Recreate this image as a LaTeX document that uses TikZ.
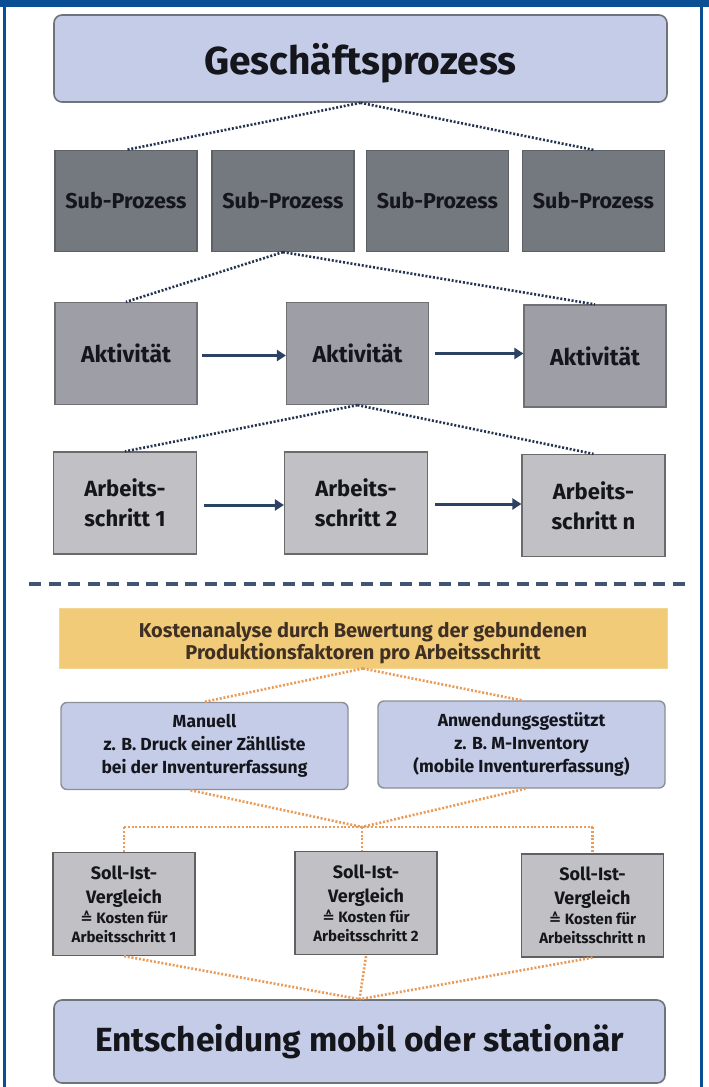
\documentclass[tikz,border=0pt]{standalone}
\usepackage{fontspec}
\setmainfont{Fira Sans}
\newfontfamily\symf{DejaVu Sans}
\usetikzlibrary{arrows.meta,calc}
\definecolor{frameblue}{HTML}{0A4F94}
\definecolor{lblue}{HTML}{C5CCE8}
\definecolor{bgray}{HTML}{6E747C}
\definecolor{subgray}{HTML}{747980}
\definecolor{aktgray}{HTML}{9E9EA6}
\definecolor{absgray}{HTML}{C0C0C5}
\definecolor{gold}{HTML}{F2CB78}
\definecolor{navy}{HTML}{22344F}
\definecolor{arrowc}{HTML}{2C4262}
\definecolor{orangedot}{HTML}{E99B5A}
\definecolor{txt}{HTML}{15161C}
\begin{document}
\begin{tikzpicture}[x=1pt,y=-1pt,
  every node/.style={inner sep=0pt, align=center, text=txt},
  roundbox/.style={rounded corners=8pt, fill=lblue, draw=bgray, line width=1.6pt},
  subbox/.style={fill=subgray, draw=subgray!80!black, line width=1.2pt, minimum width=142pt, minimum height=101pt,
     font=\bfseries\fontsize{21.5}{26}\selectfont},
  aktbox/.style={fill=aktgray, draw=aktgray!70!black, line width=1.2pt, minimum width=142pt, minimum height=102pt,
     font=\bfseries\fontsize{23}{26}\selectfont},
  absbox/.style={fill=absgray, draw=absgray!55!black, line width=1.2pt, minimum width=143pt, minimum height=102pt,
     font=\bfseries\fontsize{22}{30}\selectfont},
  sollbox/.style={fill=absgray, draw=absgray!50!black, line width=1.2pt, minimum width=142pt, minimum height=103pt,
     font=\bfseries\fontsize{18}{24}\selectfont},
  mbox/.style={rounded corners=6pt, fill=lblue, draw=bgray!80, line width=1.4pt, minimum width=287pt, minimum height=87pt,
     font=\bfseries\fontsize{17.5}{23}\selectfont},
  navydots/.style={draw=navy, line width=2.6pt, dash pattern=on 2pt off 1.8pt},
  orangedots/.style={draw=orangedot, line width=2.6pt, dash pattern=on 2pt off 1.8pt},
  flow/.style={draw=arrowc, line width=3pt, -{Triangle[length=9pt,width=11pt]}}
]
\newcommand{\smallln}[1]{{\fontsize{15}{19}\selectfont #1}}
\useasboundingbox (0,0) rectangle (709,1087);
\fill[white] (0,0) rectangle (709,1087);
% frame
\fill[frameblue] (0,0) rectangle (709,7);
\fill[frameblue] (3,0) rectangle (6,1087);
\fill[frameblue] (700,0) rectangle (703,1087);

% top
\node[roundbox, minimum width=613pt, minimum height=87pt, text depth=0pt, font=\bfseries\fontsize{39}{42}\selectfont] (gp) at (360.5,58.5)
  {Geschäftsprozess};

\node[subbox] (sp1) at (126,201) {Sub-Prozess};
\node[subbox] (sp2) at (283,201) {Sub-Prozess};
\node[subbox] (sp3) at (437.5,201) {Sub-Prozess};
\node[subbox] (sp4) at (593.5,201) {Sub-Prozess};

\node[aktbox] (ak1) at (126,353.5) {Aktivität};
\node[aktbox] (ak2) at (357.5,353.5) {Aktivität};
\node[aktbox] (ak3) at (595,356) {Aktivität};

\node[absbox] (ab1) at (125,503) {Arbeits-\\schritt 1};
\node[absbox] (ab2) at (356,503) {Arbeits-\\schritt 2};
\node[absbox] (ab3) at (593.5,505.5) {Arbeits-\\schritt n};

\draw[navydots] (gp.south) -- (sp1.north);
\draw[navydots] (gp.south) -- (sp4.north);
\draw[navydots] (sp2.south) -- (ak1.north);
\draw[navydots] (sp2.south) -- (ak3.north);
\draw[navydots] (ak2.south) -- (ab1.north);
\draw[navydots] (ak2.south) -- (ab3.north);

\draw[flow] (ak1.east) ++(4,2) coordinate (f1) -- (f1 -| ak2.west);
\draw[flow] (ak2.east) ++(6,0) coordinate (f2) -- (f2 -| ak3.west);
\draw[flow] (ab1.east) ++(7,2) coordinate (f3) -- (f3 -| ab2.west);
\draw[flow] (ab2.east) ++(7,1) coordinate (f4) -- (f4 -| ab3.west);

% separator
\coordinate (sepL) at (29,584);
\coordinate (sepR) at (690,584);
\draw[draw=arrowc!90, line width=3.5pt, dash pattern=on 12pt off 7.5pt] (sepL) -- (sepR);

% lower
\node[fill=gold, draw=gold!80!white, line width=1pt, minimum width=608pt, minimum height=60pt] (ka) at (363,638) {};
\node[text=txt!75!brown, font=\bfseries\fontsize{20}{22}\selectfont] (kat) at ($(ka.center)+(0,5)$)
  {Kostenanalyse durch Bewertung der gebundenen\\Produktionsfaktoren pro Arbeitsschritt};

\node[mbox] (ma) at (204.5,746) {Manuell\\z. B. Druck einer Zählliste\\bei der Inventurerfassung};
\node[mbox] (an) at (521.5,744.5) {Anwendungsgestützt\\z. B. M-Inventory\\(mobile Inventurerfassung)};

\draw[orangedots] (ka.south) -- (ma.north);
\draw[orangedots] (ka.south) -- (an.north);

\node[sollbox] (s1) at (124,904) {Soll-Ist-\\Vergleich\\[-4pt]\smallln{{\symf ≙} Kosten für}\\[-5pt]\smallln{Arbeitsschritt 1}};
\node[sollbox] (s2) at (366,903) {Soll-Ist-\\Vergleich\\[-4pt]\smallln{{\symf ≙} Kosten für}\\[-5pt]\smallln{Arbeitsschritt 2}};
\node[sollbox] (s3) at (592.5,905.5) {Soll-Ist-\\Vergleich\\[-4pt]\smallln{{\symf ≙} Kosten für}\\[-5pt]\smallln{Arbeitsschritt n}};

\coordinate (j) at (362,827);
\draw[orangedots] ([xshift=-14pt]ma.south) -- (j);
\draw[orangedots] ([xshift=4pt]an.south) -- (j);
\draw[orangedots] (s1.north |- j) -- (s3.north |- j);
\draw[orangedots] (s1.north |- j) -- (s1.north);
\draw[orangedots] (j) -- (j |- s2.north);
\draw[orangedots] (s3.north |- j) -- (s3.north);

\node[roundbox, minimum width=611pt, minimum height=83pt, font=\bfseries\fontsize{33.5}{36}\selectfont] (en) at (359.5,1041.5)
  {Entscheidung mobil oder stationär};

\draw[orangedots] (s1.south) -- (en.north);
\draw[orangedots] (s2.south |- s1.south) -- (en.north);
\draw[orangedots] (s3.south) -- (en.north);
\end{tikzpicture}
\end{document}
